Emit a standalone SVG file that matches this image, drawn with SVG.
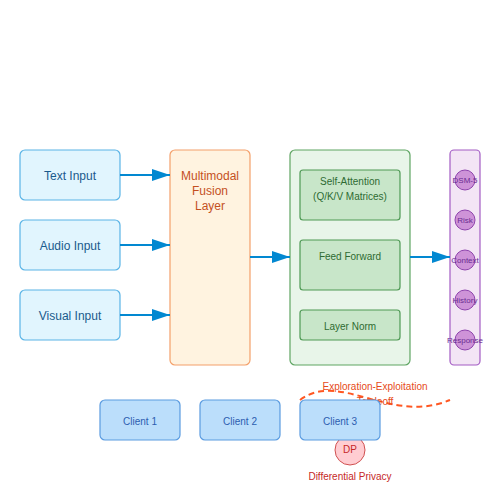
<svg xmlns="http://www.w3.org/2000/svg" width="500" height="500" viewBox="0 0 500 500">
<style>
text{font-family:"Liberation Sans",Arial,sans-serif;text-anchor:middle}
.inp rect{fill:#e1f5fe;stroke:#5ab4e6;stroke-width:1.2}
.inp text{font-size:12px;fill:#1a5a8c}
.tl rect{fill:#c8e6c9;stroke:#4f9a55;stroke-width:1.2}
.tl text{font-size:10px;fill:#2e6b32}
.mod circle{fill:#ce93d8;stroke:#8e44ad;stroke-width:1}
.mod text{font-size:8px;fill:#6a2c91}
.cl rect{fill:#bbdefb;stroke:#5a9be0;stroke-width:1.2}
.cl text{font-size:10px;fill:#2c5db0}
.conn line{stroke:#0288d1;stroke-width:2;marker-end:url(#ah)}
</style>
<defs>
<marker id="ah" viewBox="0 0 9 6" refX="9" refY="3" markerWidth="9" markerHeight="6" markerUnits="strokeWidth" orient="auto">
<path d="M0,0L9,3L0,6z" fill="#0288d1"/>
</marker>
</defs>
<rect width="500" height="500" fill="#fff"/>
<g id="text-input" class="inp"><rect x="20" y="150" width="100" height="50" rx="5"/><text x="70" y="180">Text Input</text></g>
<g id="audio-input" class="inp"><rect x="20" y="220" width="100" height="50" rx="5"/><text x="70" y="250">Audio Input</text></g>
<g id="visual-input" class="inp"><rect x="20" y="290" width="100" height="50" rx="5"/><text x="70" y="320">Visual Input</text></g>
<g id="fusion"><rect x="170" y="150" width="80" height="215" rx="5" fill="#fff3e0" stroke="#f4a06a" stroke-width="1.2"/>
<text x="210" y="180" font-size="12" fill="#c4501e">Multimodal</text>
<text x="210" y="195" font-size="12" fill="#c4501e">Fusion</text>
<text x="210" y="210" font-size="12" fill="#c4501e">Layer</text></g>
<g id="transformer"><rect x="290" y="150" width="120" height="215" rx="5" fill="#e8f5e9" stroke="#5fa563" stroke-width="1.2"/></g>
<g id="self-attention" class="tl"><rect x="300" y="170" width="100" height="50" rx="3"/><text x="350" y="185">Self-Attention</text><text x="350" y="200">(Q/K/V Matrices)</text></g>
<g id="feed-forward" class="tl"><rect x="300" y="240" width="100" height="50" rx="3"/><text x="350" y="260">Feed Forward</text></g>
<g id="layer-norm" class="tl"><rect x="300" y="310" width="100" height="30" rx="3"/><text x="350" y="330">Layer Norm</text></g>
<g id="modules"><rect x="450" y="150" width="30" height="215" rx="4" fill="#f3e5f5" stroke="#a35cc4" stroke-width="1.2"/></g>
<g id="dsm5" class="mod"><circle cx="465" cy="180" r="10"/><text x="465" y="183">DSM-5</text></g>
<g id="risk" class="mod"><circle cx="465" cy="220" r="10"/><text x="465" y="223">Risk</text></g>
<g id="context" class="mod"><circle cx="465" cy="260" r="10"/><text x="465" y="263">Context</text></g>
<g id="history" class="mod"><circle cx="465" cy="300" r="10"/><text x="465" y="303">History</text></g>
<g id="response" class="mod"><circle cx="465" cy="340" r="10"/><text x="465" y="343">Response</text></g>
<g id="connectors" class="conn">
<line x1="120" y1="175" x2="170" y2="175"/>
<line x1="120" y1="245" x2="170" y2="245"/>
<line x1="120" y1="315" x2="170" y2="315"/>
<line x1="250" y1="257" x2="290" y2="257"/>
<line x1="410" y1="257" x2="450" y2="257"/>
</g>
<g id="tradeoff">
<path d="M300,400 C340,370 390,425 450,400" fill="none" stroke="#ff5722" stroke-width="2" stroke-dasharray="6,4"/>
<text x="375" y="390" font-size="10" fill="#e64a19">Exploration-Exploitation</text>
<text x="375" y="405" font-size="10" fill="#e64a19">Tradeoff</text>
</g>
<g id="dp"><circle cx="350" cy="450" r="15" fill="#ffcdd2" stroke="#d05050" stroke-width="1"/><text x="350" y="453" font-size="10" fill="#c62828">DP</text>
<text x="350" y="480" font-size="10" fill="#c62828">Differential Privacy</text></g>
<g id="client1" class="cl"><rect x="100" y="400" width="80" height="40" rx="5"/><text x="140" y="425">Client 1</text></g>
<g id="client2" class="cl"><rect x="200" y="400" width="80" height="40" rx="5"/><text x="240" y="425">Client 2</text></g>
<g id="client3" class="cl"><rect x="300" y="400" width="80" height="40" rx="5"/><text x="340" y="425">Client 3</text></g>
</svg>
